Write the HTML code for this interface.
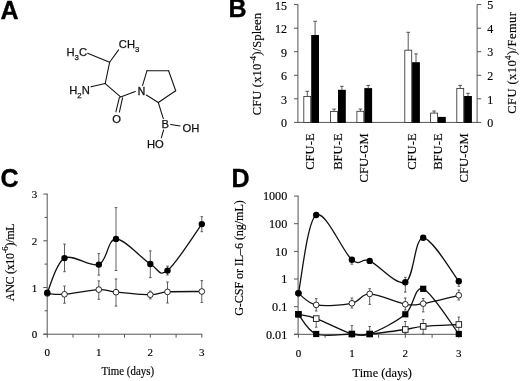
<!DOCTYPE html>
<html><head><meta charset="utf-8"><style>
html,body{margin:0;padding:0;background:#fff;}
body{width:520px;height:381px;overflow:hidden;}
svg{display:block;will-change:transform;}
</style></head><body>
<svg width="520" height="381" viewBox="0 0 520 381">
<rect width="520" height="381" fill="#fff"/>
<text x="0.5" y="19.3" style="font-family:'Liberation Sans',sans-serif;font-weight:bold;font-size:25px" stroke="#000" stroke-width="0.35">A</text>
<g stroke="#111" stroke-width="1.05" stroke-linecap="round"><line x1="87.6" y1="53.3" x2="109.6" y2="62.3"/><line x1="109.6" y1="62.3" x2="118.6" y2="49.9"/><line x1="109.6" y1="62.3" x2="105.2" y2="83.6"/><line x1="91.0" y1="86.8" x2="105.2" y2="83.6"/><line x1="105.2" y1="83.6" x2="120.6" y2="96.9"/><line x1="120.6" y1="96.9" x2="135.3" y2="91.6"/><line x1="119.4" y1="97.3" x2="115.9" y2="111.8"/><line x1="122.6" y1="97.7" x2="119.4" y2="112.1"/><line x1="142.6" y1="85.4" x2="147.0" y2="70.7"/><line x1="147.0" y1="70.7" x2="168.6" y2="70.7"/><line x1="168.6" y1="70.7" x2="175.7" y2="90.7"/><line x1="175.7" y1="90.7" x2="158.3" y2="102.5"/><line x1="158.3" y1="102.5" x2="146.3" y2="95.0"/><line x1="158.3" y1="102.5" x2="163.3" y2="118.6"/><line x1="170.7" y1="124.4" x2="180.2" y2="126.0"/><line x1="163.6" y1="130.0" x2="161.3" y2="137.8"/></g>
<text x="66.5" y="56.1" style="font-family:'Liberation Sans',sans-serif;font-size:11.2px" fill="#111" stroke="#111" stroke-width="0.25">H<tspan dy="3.9" font-size="7.8px">3</tspan><tspan dy="-3.9">C</tspan></text>
<text x="118.8" y="47.9" style="font-family:'Liberation Sans',sans-serif;font-size:11.2px" fill="#111" stroke="#111" stroke-width="0.25">CH<tspan dy="3.9" font-size="7.8px">3</tspan></text>
<text x="69.2" y="93.6" style="font-family:'Liberation Sans',sans-serif;font-size:11.2px" fill="#111" stroke="#111" stroke-width="0.25">H<tspan dy="3.9" font-size="7.8px">2</tspan><tspan dy="-3.9">N</tspan></text>
<text x="137.7" y="94.6" style="font-family:'Liberation Sans',sans-serif;font-size:10.3px" fill="#111" stroke="#111" stroke-width="0.35">N</text>
<text x="112.2" y="122.8" style="font-family:'Liberation Sans',sans-serif;font-size:11.2px" fill="#111" stroke="#111" stroke-width="0.25">O</text>
<text x="161.5" y="128.3" style="font-family:'Liberation Sans',sans-serif;font-size:11.2px" fill="#111" stroke="#111" stroke-width="0.25">B</text>
<text x="182.6" y="131.8" style="font-family:'Liberation Sans',sans-serif;font-size:11.2px" fill="#111" stroke="#111" stroke-width="0.25">OH</text>
<text x="146.9" y="148.3" style="font-family:'Liberation Sans',sans-serif;font-size:11.2px" fill="#111" stroke="#111" stroke-width="0.25">HO</text>
<text x="228.4" y="17.2" style="font-family:'Liberation Sans',sans-serif;font-weight:bold;font-size:25px" stroke="#000" stroke-width="0.35">B</text>
<g stroke="#555" stroke-width="1"><line x1="297.9" y1="4.4" x2="297.9" y2="122.9"/><line x1="297.9" y1="122.4" x2="477.6" y2="122.4"/><line x1="477.1" y1="4.4" x2="477.1" y2="122.9"/><line x1="294" y1="122.4" x2="298" y2="122.4"/><line x1="477.1" y1="122.4" x2="481.2" y2="122.4"/><line x1="294" y1="98.8" x2="298" y2="98.8"/><line x1="477.1" y1="98.8" x2="481.2" y2="98.8"/><line x1="294" y1="75.3" x2="298" y2="75.3"/><line x1="477.1" y1="75.3" x2="481.2" y2="75.3"/><line x1="294" y1="51.7" x2="298" y2="51.7"/><line x1="477.1" y1="51.7" x2="481.2" y2="51.7"/><line x1="294" y1="28.2" x2="298" y2="28.2"/><line x1="477.1" y1="28.2" x2="481.2" y2="28.2"/><line x1="294" y1="4.6" x2="298" y2="4.6"/><line x1="477.1" y1="4.6" x2="481.2" y2="4.6"/></g>
<text x="287" y="127.3" text-anchor="end" style="font-family:'Liberation Serif',serif;stroke:#000;stroke-width:0.15px;font-size:12.0px">0</text>
<text x="487.3" y="127.1" style="font-family:'Liberation Serif',serif;stroke:#000;stroke-width:0.15px;font-size:12.0px">0</text>
<text x="287" y="103.7" text-anchor="end" style="font-family:'Liberation Serif',serif;stroke:#000;stroke-width:0.15px;font-size:12.0px">3</text>
<text x="487.3" y="103.5" style="font-family:'Liberation Serif',serif;stroke:#000;stroke-width:0.15px;font-size:12.0px">1</text>
<text x="287" y="80.2" text-anchor="end" style="font-family:'Liberation Serif',serif;stroke:#000;stroke-width:0.15px;font-size:12.0px">6</text>
<text x="487.3" y="80.0" style="font-family:'Liberation Serif',serif;stroke:#000;stroke-width:0.15px;font-size:12.0px">2</text>
<text x="287" y="56.6" text-anchor="end" style="font-family:'Liberation Serif',serif;stroke:#000;stroke-width:0.15px;font-size:12.0px">9</text>
<text x="487.3" y="56.4" style="font-family:'Liberation Serif',serif;stroke:#000;stroke-width:0.15px;font-size:12.0px">3</text>
<text x="287" y="33.1" text-anchor="end" style="font-family:'Liberation Serif',serif;stroke:#000;stroke-width:0.15px;font-size:12.0px">12</text>
<text x="487.3" y="32.9" style="font-family:'Liberation Serif',serif;stroke:#000;stroke-width:0.15px;font-size:12.0px">4</text>
<text x="287" y="9.5" text-anchor="end" style="font-family:'Liberation Serif',serif;stroke:#000;stroke-width:0.15px;font-size:12.0px">15</text>
<text x="487.3" y="9.3" style="font-family:'Liberation Serif',serif;stroke:#000;stroke-width:0.15px;font-size:12.0px">5</text>
<path d="M307.3,96.5V91.3M305.5,91.3H309.1" stroke="#444" stroke-width="0.9" fill="none"/>
<path d="M315.1,35.0V21.3M313.3,21.3H316.9" stroke="#444" stroke-width="0.9" fill="none"/>
<rect x="303.8" y="96.5" width="6.9" height="25.9" fill="#fff" stroke="#333" stroke-width="0.85"/>
<rect x="311.2" y="35.0" width="7.8" height="87.9" fill="#000"/>
<path d="M334.1,111.5V109.1M332.3,109.1H335.9" stroke="#444" stroke-width="0.9" fill="none"/>
<path d="M341.9,89.8V86.3M340.1,86.3H343.7" stroke="#444" stroke-width="0.9" fill="none"/>
<rect x="330.6" y="111.5" width="6.9" height="10.9" fill="#fff" stroke="#333" stroke-width="0.85"/>
<rect x="338.0" y="89.8" width="7.8" height="33.1" fill="#000"/>
<path d="M360.4,111.3V109.0M358.6,109.0H362.2" stroke="#444" stroke-width="0.9" fill="none"/>
<path d="M368.2,88.1V85.4M366.4,85.4H370.0" stroke="#444" stroke-width="0.9" fill="none"/>
<rect x="356.9" y="111.3" width="6.9" height="11.1" fill="#fff" stroke="#333" stroke-width="0.85"/>
<rect x="364.3" y="88.1" width="7.8" height="34.8" fill="#000"/>
<path d="M408.2,50.2V32.3M406.4,32.3H410.0" stroke="#444" stroke-width="0.9" fill="none"/>
<path d="M416.0,62.2V53.9M414.2,53.9H417.8" stroke="#444" stroke-width="0.9" fill="none"/>
<rect x="404.8" y="50.2" width="6.9" height="72.2" fill="#fff" stroke="#333" stroke-width="0.85"/>
<rect x="412.1" y="62.2" width="7.8" height="60.7" fill="#000"/>
<path d="M434.1,113.1V111.0M432.3,111.0H435.9" stroke="#444" stroke-width="0.9" fill="none"/>
<rect x="430.6" y="113.1" width="6.9" height="9.3" fill="#fff" stroke="#333" stroke-width="0.85"/>
<rect x="438.0" y="116.9" width="7.8" height="6.0" fill="#000"/>
<path d="M460.2,88.4V85.4M458.4,85.4H462.0" stroke="#444" stroke-width="0.9" fill="none"/>
<path d="M468.0,96.0V93.3M466.2,93.3H469.8" stroke="#444" stroke-width="0.9" fill="none"/>
<rect x="456.8" y="88.4" width="6.9" height="34.0" fill="#fff" stroke="#333" stroke-width="0.85"/>
<rect x="464.1" y="96.0" width="7.8" height="26.9" fill="#000"/>
<text transform="translate(314.4,133.4) rotate(-90)" text-anchor="end" style="font-family:'Liberation Serif',serif;stroke:#000;stroke-width:0.15px;font-size:12.6px">CFU-E</text>
<text transform="translate(341.5,133.4) rotate(-90)" text-anchor="end" style="font-family:'Liberation Serif',serif;stroke:#000;stroke-width:0.15px;font-size:12.6px">BFU-E</text>
<text transform="translate(367.9,133.4) rotate(-90)" text-anchor="end" style="font-family:'Liberation Serif',serif;stroke:#000;stroke-width:0.15px;font-size:12.6px">CFU-GM</text>
<text transform="translate(416.1,133.4) rotate(-90)" text-anchor="end" style="font-family:'Liberation Serif',serif;stroke:#000;stroke-width:0.15px;font-size:12.6px">CFU-E</text>
<text transform="translate(441.7,133.4) rotate(-90)" text-anchor="end" style="font-family:'Liberation Serif',serif;stroke:#000;stroke-width:0.15px;font-size:12.6px">BFU-E</text>
<text transform="translate(467.5,133.4) rotate(-90)" text-anchor="end" style="font-family:'Liberation Serif',serif;stroke:#000;stroke-width:0.15px;font-size:12.6px">CFU-GM</text>
<text transform="translate(261.3,115.3) rotate(-90)" textLength="102.4" lengthAdjust="spacing" style="font-family:'Liberation Serif',serif;stroke:#000;stroke-width:0.15px;font-size:12.6px">CFU (x10<tspan dy="-5.2" font-size="9px">-4</tspan><tspan dy="5.2">)/Spleen</tspan></text>
<text transform="translate(516.3,113.8) rotate(-90)" textLength="101.8" lengthAdjust="spacing" style="font-family:'Liberation Serif',serif;stroke:#000;stroke-width:0.15px;font-size:12.6px">CFU (x10<tspan dy="-5.2" font-size="9px">4</tspan><tspan dy="5.2">)/Femur</tspan></text>
<text x="0.5" y="187" style="font-family:'Liberation Sans',sans-serif;font-weight:bold;font-size:25px" stroke="#000" stroke-width="0.35">C</text>
<g stroke="#555" stroke-width="1"><line x1="47.2" y1="193.6" x2="47.2" y2="334.2"/><line x1="43.5" y1="334.2" x2="202.3" y2="334.2"/><line x1="43.3" y1="334.2" x2="47.2" y2="334.2"/><line x1="44.5" y1="310.8" x2="47.2" y2="310.8"/><line x1="43.3" y1="287.5" x2="47.2" y2="287.5"/><line x1="44.5" y1="264.1" x2="47.2" y2="264.1"/><line x1="43.3" y1="240.8" x2="47.2" y2="240.8"/><line x1="44.5" y1="217.4" x2="47.2" y2="217.4"/><line x1="43.3" y1="194.1" x2="47.2" y2="194.1"/><line x1="47.3" y1="334.2" x2="47.3" y2="337.6"/><line x1="73.0" y1="334.2" x2="73.0" y2="337.6"/><line x1="98.8" y1="334.2" x2="98.8" y2="337.6"/><line x1="124.5" y1="334.2" x2="124.5" y2="337.6"/><line x1="150.3" y1="334.2" x2="150.3" y2="337.6"/><line x1="176.1" y1="334.2" x2="176.1" y2="337.6"/><line x1="201.8" y1="334.2" x2="201.8" y2="337.6"/></g>
<text x="37.2" y="338.4" text-anchor="end" style="font-family:'Liberation Serif',serif;stroke:#000;stroke-width:0.15px;font-size:11px">0</text>
<text x="47.3" y="355.8" text-anchor="middle" style="font-family:'Liberation Serif',serif;stroke:#000;stroke-width:0.15px;font-size:11px">0</text>
<text x="37.2" y="291.7" text-anchor="end" style="font-family:'Liberation Serif',serif;stroke:#000;stroke-width:0.15px;font-size:11px">1</text>
<text x="98.8" y="355.8" text-anchor="middle" style="font-family:'Liberation Serif',serif;stroke:#000;stroke-width:0.15px;font-size:11px">1</text>
<text x="37.2" y="245.0" text-anchor="end" style="font-family:'Liberation Serif',serif;stroke:#000;stroke-width:0.15px;font-size:11px">2</text>
<text x="150.3" y="355.8" text-anchor="middle" style="font-family:'Liberation Serif',serif;stroke:#000;stroke-width:0.15px;font-size:11px">2</text>
<text x="37.2" y="198.3" text-anchor="end" style="font-family:'Liberation Serif',serif;stroke:#000;stroke-width:0.15px;font-size:11px">3</text>
<text x="201.8" y="355.8" text-anchor="middle" style="font-family:'Liberation Serif',serif;stroke:#000;stroke-width:0.15px;font-size:11px">3</text>
<text transform="translate(101.5,374.8) scale(1,1.12)" style="font-family:'Liberation Serif',serif;stroke:#000;stroke-width:0.15px;font-size:10.9px">Time (days)</text>
<text transform="translate(13.8,301.2) rotate(-90)" textLength="77.8" lengthAdjust="spacing" style="font-family:'Liberation Serif',serif;stroke:#000;stroke-width:0.15px;font-size:12px">ANC (x10<tspan dy="-5.6" font-size="8.8px">-6</tspan><tspan dy="5.6">)/mL</tspan></text>
<path d="M64.5,244.1V271.7M63.2,244.1H65.8M63.2,271.7H65.8M98.8,253.6V275.1M97.5,253.6H100.1M97.5,275.1H100.1M116.0,207.6V270.5M114.7,207.6H117.3M114.7,270.5H117.3M150.3,250.9V277.6M149.0,250.9H151.6M149.0,277.6H151.6M167.5,266.1V275.0M166.2,266.1H168.8M166.2,275.0H168.8M201.8,216.7V231.7M200.5,216.7H203.1M200.5,231.7H203.1" stroke="#444" stroke-width="0.85" fill="none"/>
<path d="M64.5,286.1V303.2M63.2,286.1H65.8M63.2,303.2H65.8M98.8,280.9V299.3M97.5,280.9H100.1M97.5,299.3H100.1M116.0,279.0V306.1M114.7,279.0H117.3M114.7,306.1H117.3M150.3,291.1V298.9M149.0,291.1H151.6M149.0,298.9H151.6M167.5,282.0V303.0M166.2,282.0H168.8M166.2,303.0H168.8M201.8,280.6V302.4M200.5,280.6H203.1M200.5,302.4H203.1" stroke="#444" stroke-width="0.85" fill="none"/>
<path d="M47.30,293.50 C50.16,293.63 55.88,294.95 64.47,294.30 C73.05,293.65 90.22,289.95 98.80,289.60 C107.38,289.25 107.38,291.35 115.97,292.20 C124.55,293.05 141.72,294.75 150.30,294.70 C158.88,294.65 158.88,292.43 167.47,291.90 C176.05,291.37 196.08,291.57 201.80,291.50" stroke="#111" stroke-width="1.3" fill="none"/>
<path d="M47.30,292.70 C50.16,286.93 55.88,262.78 64.47,258.10 C73.05,253.42 90.22,267.80 98.80,264.60 C107.38,261.40 107.38,239.00 115.97,238.90 C124.55,238.80 141.72,258.72 150.30,264.00 C158.88,269.28 158.88,277.25 167.47,270.60 C176.05,263.95 196.08,231.85 201.80,224.10" stroke="#111" stroke-width="1.3" fill="none"/>
<circle cx="47.3" cy="293.5" r="2.85" fill="#fff" stroke="#111" stroke-width="0.9"/>
<circle cx="64.5" cy="294.3" r="2.85" fill="#fff" stroke="#111" stroke-width="0.9"/>
<circle cx="98.8" cy="289.6" r="2.85" fill="#fff" stroke="#111" stroke-width="0.9"/>
<circle cx="116.0" cy="292.2" r="2.85" fill="#fff" stroke="#111" stroke-width="0.9"/>
<circle cx="150.3" cy="294.7" r="2.85" fill="#fff" stroke="#111" stroke-width="0.9"/>
<circle cx="167.5" cy="291.9" r="2.85" fill="#fff" stroke="#111" stroke-width="0.9"/>
<circle cx="201.8" cy="291.5" r="2.85" fill="#fff" stroke="#111" stroke-width="0.9"/>
<circle cx="47.3" cy="292.7" r="3.2" fill="#000"/>
<circle cx="64.5" cy="258.1" r="3.2" fill="#000"/>
<circle cx="98.8" cy="264.6" r="3.2" fill="#000"/>
<circle cx="116.0" cy="238.9" r="3.2" fill="#000"/>
<circle cx="150.3" cy="264.0" r="3.2" fill="#000"/>
<circle cx="167.5" cy="270.6" r="3.2" fill="#000"/>
<circle cx="201.8" cy="224.1" r="3.2" fill="#000"/>
<text x="231.5" y="186.9" style="font-family:'Liberation Sans',sans-serif;font-weight:bold;font-size:25px" stroke="#000" stroke-width="0.35">D</text>
<g stroke="#555" stroke-width="1"><line x1="298.1" y1="195.6" x2="298.1" y2="334.3"/><line x1="294" y1="334.3" x2="461.2" y2="334.3"/><line x1="294" y1="196.1" x2="298.1" y2="196.1"/><line x1="294" y1="223.7" x2="298.1" y2="223.7"/><line x1="294" y1="251.4" x2="298.1" y2="251.4"/><line x1="294" y1="279.0" x2="298.1" y2="279.0"/><line x1="294" y1="306.7" x2="298.1" y2="306.7"/><line x1="294" y1="334.3" x2="298.1" y2="334.3"/><line x1="298.4" y1="334.3" x2="298.4" y2="337.8"/><line x1="325.1" y1="334.3" x2="325.1" y2="337.8"/><line x1="351.9" y1="334.3" x2="351.9" y2="337.8"/><line x1="378.6" y1="334.3" x2="378.6" y2="337.8"/><line x1="405.3" y1="334.3" x2="405.3" y2="337.8"/><line x1="432.1" y1="334.3" x2="432.1" y2="337.8"/><line x1="458.8" y1="334.3" x2="458.8" y2="337.8"/></g>
<text x="287.3" y="200.3" text-anchor="end" style="font-family:'Liberation Serif',serif;stroke:#000;stroke-width:0.15px;font-size:12.2px">1000</text>
<text x="287.3" y="227.9" text-anchor="end" style="font-family:'Liberation Serif',serif;stroke:#000;stroke-width:0.15px;font-size:12.2px">100</text>
<text x="287.3" y="255.6" text-anchor="end" style="font-family:'Liberation Serif',serif;stroke:#000;stroke-width:0.15px;font-size:12.2px">10</text>
<text x="287.3" y="283.2" text-anchor="end" style="font-family:'Liberation Serif',serif;stroke:#000;stroke-width:0.15px;font-size:12.2px">1</text>
<text x="287.3" y="310.9" text-anchor="end" style="font-family:'Liberation Serif',serif;stroke:#000;stroke-width:0.15px;font-size:12.2px">0.1</text>
<text x="287.3" y="338.5" text-anchor="end" style="font-family:'Liberation Serif',serif;stroke:#000;stroke-width:0.15px;font-size:12.2px">0.01</text>
<text x="298.4" y="357.4" text-anchor="middle" style="font-family:'Liberation Serif',serif;stroke:#000;stroke-width:0.15px;font-size:11px">0</text>
<text x="351.9" y="357.4" text-anchor="middle" style="font-family:'Liberation Serif',serif;stroke:#000;stroke-width:0.15px;font-size:11px">1</text>
<text x="405.3" y="357.4" text-anchor="middle" style="font-family:'Liberation Serif',serif;stroke:#000;stroke-width:0.15px;font-size:11px">2</text>
<text x="458.8" y="357.4" text-anchor="middle" style="font-family:'Liberation Serif',serif;stroke:#000;stroke-width:0.15px;font-size:11px">3</text>
<text x="352.6" y="377" style="font-family:'Liberation Serif',serif;stroke:#000;stroke-width:0.15px;font-size:12.3px">Time (days)</text>
<text transform="translate(243.2,315.8) rotate(-90)" textLength="115.6" lengthAdjust="spacing" style="font-family:'Liberation Serif',serif;stroke:#000;stroke-width:0.15px;font-size:12.2px">G-CSF or IL&#8211;6 (ng/mL)</text>
<path d="M351.9,259.8V264.2M350.6,259.8H353.2M350.6,264.2H353.2M405.3,277.3V292.1M404.0,277.3H406.6M404.0,292.1H406.6M458.8,281.3V286.3M457.5,281.3H460.1M457.5,286.3H460.1" stroke="#444" stroke-width="0.85" fill="none"/>
<path d="M316.2,298.6V311.0M314.9,298.6H317.5M314.9,311.0H317.5M351.9,298.0V308.0M350.6,298.0H353.2M350.6,308.0H353.2M369.7,288.7V304.4M368.4,288.7H371.0M368.4,304.4H371.0M405.3,298.0V310.0M404.0,298.0H406.6M404.0,310.0H406.6M423.2,298.5V311.9M421.9,298.5H424.5M421.9,311.9H424.5M458.8,290.0V300.0M457.5,290.0H460.1M457.5,300.0H460.1" stroke="#444" stroke-width="0.85" fill="none"/>
<path d="M351.9,325.7V334.0M350.6,325.7H353.2M350.6,334.0H353.2M369.7,326.5V334.0M368.4,326.5H371.0M368.4,334.0H371.0" stroke="#444" stroke-width="0.85" fill="none"/>
<path d="M316.2,318.6V327.2M314.9,318.6H317.5M314.9,327.2H317.5M405.3,321.5V334.0M404.0,321.5H406.6M404.0,334.0H406.6M423.2,319.6V334.0M421.9,319.6H424.5M421.9,334.0H424.5M458.8,317.1V332.0M457.5,317.1H460.1M457.5,332.0H460.1" stroke="#444" stroke-width="0.85" fill="none"/>
<path d="M298.40,314.30 C301.37,315.02 307.31,315.32 316.22,318.60 C325.13,321.88 342.96,331.43 351.87,334.00 C360.78,336.57 360.78,334.75 369.69,334.00 C378.60,333.25 396.43,330.77 405.34,329.50 C414.25,328.23 414.25,327.23 423.16,326.40 C432.07,325.57 452.87,324.82 458.81,324.50" stroke="#111" stroke-width="1.3" fill="none"/>
<path d="M298.40,314.30 C301.37,317.58 307.31,330.72 316.22,334.00 C325.13,337.28 342.96,334.00 351.87,334.00 C360.78,334.00 360.78,337.28 369.69,334.00 C378.60,330.72 396.43,321.83 405.34,314.30 C414.25,306.77 414.25,285.52 423.16,288.80 C432.07,292.08 452.87,326.47 458.81,334.00" stroke="#111" stroke-width="1.3" fill="none"/>
<path d="M298.40,293.30 C301.37,295.23 307.31,303.23 316.22,304.90 C325.13,306.57 342.96,305.13 351.87,303.30 C360.78,301.47 360.78,293.73 369.69,293.90 C378.60,294.07 396.43,302.68 405.34,304.30 C414.25,305.92 414.25,305.10 423.16,303.60 C432.07,302.10 452.87,296.68 458.81,295.30" stroke="#111" stroke-width="1.3" fill="none"/>
<path d="M298.40,293.30 C301.37,280.25 307.31,220.58 316.22,215.00 C325.13,209.42 342.96,252.15 351.87,259.80 C360.78,267.45 360.78,257.15 369.69,260.90 C378.60,264.65 396.43,286.15 405.34,282.30 C414.25,278.45 414.25,237.97 423.16,237.80 C432.07,237.63 452.87,274.05 458.81,281.30" stroke="#111" stroke-width="1.3" fill="none"/>
<rect x="295.6" y="311.5" width="5.6" height="5.6" fill="#fff" stroke="#111" stroke-width="0.9"/>
<rect x="313.4" y="315.8" width="5.6" height="5.6" fill="#fff" stroke="#111" stroke-width="0.9"/>
<rect x="349.1" y="331.2" width="5.6" height="5.6" fill="#fff" stroke="#111" stroke-width="0.9"/>
<rect x="366.9" y="331.2" width="5.6" height="5.6" fill="#fff" stroke="#111" stroke-width="0.9"/>
<rect x="402.5" y="326.7" width="5.6" height="5.6" fill="#fff" stroke="#111" stroke-width="0.9"/>
<rect x="420.4" y="323.6" width="5.6" height="5.6" fill="#fff" stroke="#111" stroke-width="0.9"/>
<rect x="456.0" y="321.7" width="5.6" height="5.6" fill="#fff" stroke="#111" stroke-width="0.9"/>
<rect x="295.3" y="311.2" width="6.2" height="6.2" fill="#000"/>
<rect x="313.1" y="330.9" width="6.2" height="6.2" fill="#000"/>
<rect x="348.8" y="330.9" width="6.2" height="6.2" fill="#000"/>
<rect x="366.6" y="330.9" width="6.2" height="6.2" fill="#000"/>
<rect x="402.2" y="311.2" width="6.2" height="6.2" fill="#000"/>
<rect x="420.1" y="285.7" width="6.2" height="6.2" fill="#000"/>
<rect x="455.7" y="330.9" width="6.2" height="6.2" fill="#000"/>
<circle cx="298.4" cy="293.3" r="2.85" fill="#fff" stroke="#111" stroke-width="0.9"/>
<circle cx="316.2" cy="304.9" r="2.85" fill="#fff" stroke="#111" stroke-width="0.9"/>
<circle cx="351.9" cy="303.3" r="2.85" fill="#fff" stroke="#111" stroke-width="0.9"/>
<circle cx="369.7" cy="293.9" r="2.85" fill="#fff" stroke="#111" stroke-width="0.9"/>
<circle cx="405.3" cy="304.3" r="2.85" fill="#fff" stroke="#111" stroke-width="0.9"/>
<circle cx="423.2" cy="303.6" r="2.85" fill="#fff" stroke="#111" stroke-width="0.9"/>
<circle cx="458.8" cy="295.3" r="2.85" fill="#fff" stroke="#111" stroke-width="0.9"/>
<circle cx="298.4" cy="293.3" r="3.2" fill="#000"/>
<circle cx="316.2" cy="215.0" r="3.2" fill="#000"/>
<circle cx="351.9" cy="259.8" r="3.2" fill="#000"/>
<circle cx="369.7" cy="260.9" r="3.2" fill="#000"/>
<circle cx="405.3" cy="282.3" r="3.2" fill="#000"/>
<circle cx="423.2" cy="237.8" r="3.2" fill="#000"/>
<circle cx="458.8" cy="281.3" r="3.2" fill="#000"/>
</svg>
</body></html>
